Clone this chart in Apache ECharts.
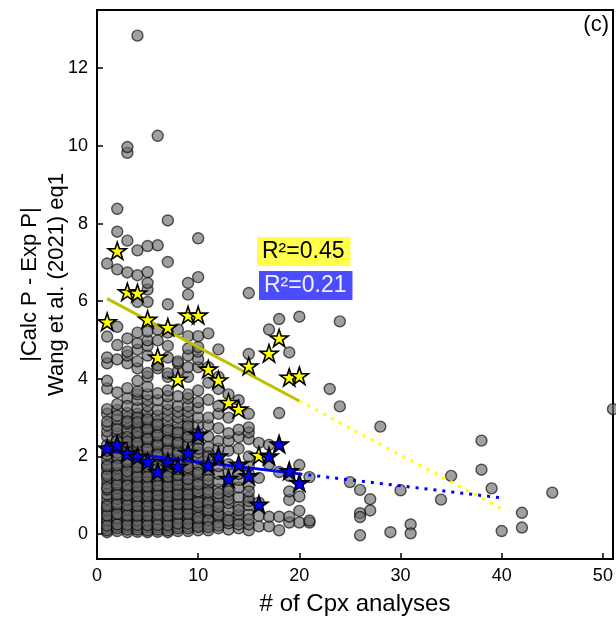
<!DOCTYPE html>
<html>
<head>
<meta charset="utf-8">
<script src="https://cdn.jsdelivr.net/npm/echarts@6/dist/echarts.min.js"></script>
<style>
html,body{margin:0;padding:0;background:#fff;}
#chart{width:616px;height:617px;}
</style>
</head>
<body>
<div id="chart"></div>
<script>
// ---- data ----
const xTicks = [0, 10, 20, 30, 40, 50];
const yTicks = [0, 2, 4, 6, 8, 10, 12];

const starX = [1,2,3,4,5,6,7,8,9,10,11,12,13,14,15,16,17,18,19,20];
const yellowStarY = [5.47,7.3,6.24,6.21,5.53,4.56,5.33,3.99,5.64,5.64,4.25,3.97,3.39,3.22,4.33,2.03,4.66,5.05,4.04,4.08];
const blueStarY = [2.22,2.31,2.08,2.0,1.87,1.61,1.86,1.74,2.1,2.57,1.77,2.01,1.43,1.8,1.5,0.77,2.01,2.32,1.63,1.32];
const fitExtendTo = 40;

// gray points, one array of y values per integer x (x = 1..21)
const grayCol01 = [0.05,0.15,0.28,0.4,0.52,0.65,0.78,0.9,1.02,1.15,1.3,1.42,1.55,1.68,1.8,1.92,2.05,2.3,2.52,2.65,2.8,3.1,3.22,3.75,3.95,4.4,4.55,5.09,6.97,0.1,0.35,0.6,1.2,1.5,0.22,0.48,0.72,1.75,2.15,2.9];
const grayCol02 = [0.08,0.2,0.32,0.45,0.58,0.7,0.82,0.95,1.08,1.2,1.33,1.45,1.58,1.7,1.83,1.95,2.1,2.45,2.6,2.78,2.95,3.2,3.35,3.65,4.5,4.87,5.34,6.82,7.79,8.38,0.15,0.4,0.9,1.4,2.0,2.4,0.25,0.52,0.77,1.02,1.27,1.52,1.77,2.25,2.7,3.05];
const grayCol03 = [0.05,0.18,0.3,0.43,0.55,0.68,0.8,0.93,1.05,1.18,1.3,1.43,1.55,1.68,1.8,1.93,2.2,2.32,2.45,2.58,2.7,2.85,3.0,3.12,3.5,3.76,4.4,4.6,4.7,5.04,6.74,7.56,9.82,9.97,0.12,0.36,0.62,0.88,1.12,1.5,2.05,2.5,2.9,0.24,0.48,0.74,1.0,1.25,1.62,1.86,2.12,2.38,3.3];
const grayCol04 = [0.06,0.18,0.3,0.42,0.55,0.67,0.8,0.92,1.05,1.17,1.3,1.42,1.55,1.67,1.8,1.92,2.15,2.28,2.4,2.55,2.68,2.8,2.95,3.1,3.25,3.46,3.6,3.67,3.95,4.27,4.45,4.75,4.92,5.19,5.98,6.67,7.31,12.84,0.12,0.35,0.6,0.85,1.1,1.35,1.6,1.85,2.5,3.0,0.24,0.48,0.73,0.98,1.23,1.48,1.73,2.05,2.35,2.62,2.88];
const grayCol05 = [0.05,0.17,0.3,0.42,0.55,0.68,0.8,0.93,1.05,1.18,1.3,1.43,1.55,1.68,1.8,2.0,2.12,2.25,2.38,2.5,2.62,2.75,2.88,3.0,3.15,3.3,3.45,3.6,3.8,4.06,4.15,4.6,4.85,4.99,5.22,5.98,6.3,6.47,6.75,7.42,0.1,0.35,0.6,0.85,1.1,1.35,1.6,2.2,2.7,0.23,0.48,0.73,0.98,1.23,1.48,1.74,1.92,2.45,2.95];
const grayCol06 = [0.06,0.18,0.3,0.43,0.55,0.68,0.8,0.92,1.05,1.17,1.3,1.42,1.55,1.75,1.88,2.0,2.12,2.25,2.38,2.5,2.62,2.75,2.9,3.05,3.2,3.45,3.63,4.27,4.35,4.99,5.27,7.44,10.26,0.12,0.38,0.62,0.88,1.12,1.38,2.3,0.24,0.5,0.75,1.0,1.25,1.5,1.68,2.05,2.55,2.82];
const grayCol07 = [0.05,0.17,0.3,0.42,0.55,0.67,0.8,0.92,1.05,1.17,1.3,1.42,1.55,1.68,1.95,2.08,2.2,2.33,2.45,2.6,2.75,2.9,3.05,3.2,3.35,3.55,3.7,4.05,4.14,4.55,4.85,5.19,5.92,7.01,8.08,0.1,0.35,0.6,0.85,1.1,1.35,1.6,0.23,0.48,0.73,0.98,1.23,1.48,1.8,2.15,2.4,2.68];
const grayCol08 = [0.08,0.2,0.32,0.45,0.58,0.7,0.83,0.95,1.08,1.2,1.33,1.45,1.58,1.9,2.02,2.15,2.28,2.4,2.55,2.7,2.85,3.0,3.15,3.3,3.55,4.2,4.4,4.45,5.27,0.15,0.4,0.65,0.9,1.15,1.4,0.27,0.52,0.77,1.02,1.27,1.52,1.68,2.1,2.35,2.62];
const grayCol09 = [0.08,0.2,0.33,0.45,0.58,0.7,0.83,0.95,1.08,1.2,1.35,1.5,1.65,1.8,1.95,2.25,2.4,2.55,2.7,2.85,3.0,3.15,3.3,3.5,3.6,4.05,4.3,4.6,4.78,5.1,6.17,6.47,0.15,0.4,0.65,0.9,1.15,2.3,0.27,0.52,0.77,1.02,1.28,1.42,1.72,2.5,2.78];
const grayCol10 = [0.1,0.22,0.35,0.48,0.6,0.75,0.9,1.05,1.2,1.35,1.5,1.65,1.8,1.95,2.1,2.3,2.45,2.6,2.8,3.0,3.25,3.4,3.7,4.3,4.5,4.7,4.82,5.1,6.62,7.62,0.3,0.7,1.1,0.18,0.42,0.82,1.28,1.58,2.2];
const grayCol11 = [0.1,0.25,0.4,0.55,0.7,0.85,1.0,1.15,1.3,1.5,1.65,1.9,2.1,2.25,2.52,2.8,3.0,3.46,3.9,4.3,5.17,0.35,0.8,0.18,0.62,1.08,1.4,2.0];
const grayCol12 = [0.15,0.3,0.45,0.6,0.8,0.95,1.15,1.35,1.55,1.75,2.2,2.4,2.73,3.1,3.3,3.74,4.05,4.76,0.5,0.22,0.7,1.05,1.95];
const grayCol13 = [0.12,0.28,0.45,0.62,0.8,1.0,1.2,1.6,1.8,2.15,2.4,2.6,3.0,3.6,0.35,0.9,1.1];
const grayCol14 = [0.15,0.35,0.5,0.7,0.95,1.2,1.4,1.55,2.2,2.5,2.69,3.45,0.25,0.62];
const grayCol15 = [0.1,0.25,0.5,0.75,0.95,1.25,1.55,1.75,2.0,2.45,2.62,2.75,3.1,4.64,6.21,0.38,0.85,1.1];
const grayCol16 = [0.2,0.47,0.81,1.45,2.35];
const grayCol17 = [0.2,0.45,1.8,2.3,5.27];
const grayCol18 = [0.1,0.45,1.6,3.12,5.54];
const grayCol19 = [0.3,0.45,0.88,1.1,1.5,4.68];
const grayCol20 = [0.3,0.6,0.97,1.78,5.6];
const grayCol21 = [0.3,0.35,1.47];
const grayOutliers = [[23,3.74],[24,3.29],[24,5.48],[28,2.77],[38,2.41],[38,1.66],[35,1.5],[39,1.18],[45,1.07],[51,3.22],[34,0.89],[30,1.13],[25,1.34],[26,1.14],[27,0.9],[27,0.61],[26,0.54],[26,0.44],[26,-0.03],[29,0.05],[31,0.25],[31,0.02],[40,0.08],[42,0.55],[42,0.17]];

const r2Yellow = 'R²=0.45';
const r2Blue = 'R²=0.21';

// ---- build ----
const grayCols = [grayCol01,grayCol02,grayCol03,grayCol04,grayCol05,grayCol06,grayCol07,grayCol08,grayCol09,grayCol10,grayCol11,grayCol12,grayCol13,grayCol14,grayCol15,grayCol16,grayCol17,grayCol18,grayCol19,grayCol20,grayCol21];
const grayData = [];
grayCols.forEach((col, i) => col.forEach(y => grayData.push([i + 1, y])));
grayOutliers.forEach(p => grayData.push(p));

function fit(xs, ys) {
  const n = xs.length;
  const mx = xs.reduce((a, b) => a + b, 0) / n;
  const my = ys.reduce((a, b) => a + b, 0) / n;
  let sxy = 0, sxx = 0;
  for (let i = 0; i < n; i++) { sxy += (xs[i] - mx) * (ys[i] - my); sxx += (xs[i] - mx) ** 2; }
  const b = sxy / sxx;
  return { b, a: my - b * mx };
}
const fy = fit(starX, yellowStarY);
const fb = fit(starX, blueStarY);
const xMin = Math.min(...starX), xMax = Math.max(...starX);
const lineSolid = f => [[xMin, f.a + f.b * xMin], [xMax, f.a + f.b * xMax]];
const lineDot = f => [[xMax, f.a + f.b * xMax], [fitExtendTo, f.a + f.b * fitExtendTo]];

const starPath = 'path://M100,0 L77.55,69.1 L4.89,69.1 L63.67,111.8 L41.22,180.9 L100,138.2 L158.78,180.9 L136.33,111.8 L195.11,69.1 L122.45,69.1 Z';
const FONT = 'Liberation Sans, Arial, sans-serif';

const chart = echarts.init(document.getElementById('chart'), null, { renderer: 'canvas' });
chart.setOption({
  animation: false,
  backgroundColor: '#fff',
  grid: { left: 97, right: 3, top: 10, bottom: 58, show: true, borderColor: '#000', borderWidth: 2, backgroundColor: 'transparent', containLabel: false, outerBoundsMode: 'none' },
  xAxis: {
    type: 'value', min: 0, max: 51,
    name: '# of Cpx analyses', nameLocation: 'middle', nameGap: 33, nameMoveOverlap: false,
    nameTextStyle: { fontFamily: FONT, fontSize: 24, color: '#000' },
    axisLine: { show: false, onZero: false },
    axisTick: { show: true, inside: true, length: 6, lineStyle: { color: '#000', width: 1.5 }, customValues: xTicks },
    axisLabel: { show: true, margin: 8, fontFamily: FONT, fontSize: 18, color: '#000', customValues: xTicks },
    splitLine: { show: false }
  },
  yAxis: {
    type: 'value', min: -0.64, max: 13.5,
    name: '|Calc P - Exp P|\nWang et al. (2021) eq1', nameLocation: 'middle', nameGap: 27, nameMoveOverlap: false,
    nameTextStyle: { fontFamily: FONT, fontSize: 22, lineHeight: 27, color: '#000' },
    axisLine: { show: false, onZero: false },
    axisTick: { show: true, inside: true, length: 6, lineStyle: { color: '#000', width: 1.5 }, customValues: yTicks },
    axisLabel: { show: true, margin: 9, fontFamily: FONT, fontSize: 18, color: '#000', customValues: yTicks },
    splitLine: { show: false }
  },
  series: [
    { type: 'scatter', data: grayData, symbol: 'circle', symbolSize: 11,
      itemStyle: { color: '#6a6a6a', borderColor: '#000', borderWidth: 1.4, opacity: 0.64 },
      emphasis: { disabled: true }, silent: true, z: 1 },
    { type: 'line', data: lineSolid(fy), symbol: 'none', lineStyle: { color: '#bfbf00', width: 3 }, silent: true, z: 2 },
    { type: 'line', data: lineDot(fy), symbol: 'none', lineStyle: { color: '#ffff00', width: 3, type: [3, 6] }, silent: true, z: 2 },
    { type: 'line', data: lineSolid(fb), symbol: 'none', lineStyle: { color: '#0000ff', width: 3 }, silent: true, z: 2 },
    { type: 'line', data: lineDot(fb), symbol: 'none', lineStyle: { color: '#0000ff', width: 3, type: [3, 6] }, silent: true, z: 2 },
    { type: 'scatter', data: starX.map((x, i) => [x, yellowStarY[i]]), symbol: starPath, symbolKeepAspect: true, symbolSize: 18,
      itemStyle: { color: '#ffff00', borderColor: '#000', borderWidth: 1.6, opacity: 1 }, emphasis: { disabled: true }, silent: true, z: 3 },
    { type: 'scatter', data: starX.map((x, i) => [x, blueStarY[i]]), symbol: starPath, symbolKeepAspect: true, symbolSize: 18,
      itemStyle: { color: '#0000ff', borderColor: '#000', borderWidth: 1.6, opacity: 1 }, emphasis: { disabled: true }, silent: true, z: 3 }
  ],
  graphic: [
    { type: 'text', right: 7, top: 14, z: 10,
      style: { text: '(c)', fontFamily: FONT, fontSize: 22, fill: '#000' } },
    { type: 'text', left: 257, top: 237, z: 10,
      style: { text: r2Yellow, fontFamily: FONT, fontSize: 23, fill: '#000', backgroundColor: 'rgba(255,255,0,0.7)', padding: [3, 6, 3, 5] } },
    { type: 'text', left: 259, top: 271, z: 10,
      style: { text: r2Blue, fontFamily: FONT, fontSize: 23, fill: '#f2f2f2', backgroundColor: 'rgba(0,0,255,0.7)', padding: [3, 6, 3, 5] } }
  ]
});
</script>
</body>
</html>
